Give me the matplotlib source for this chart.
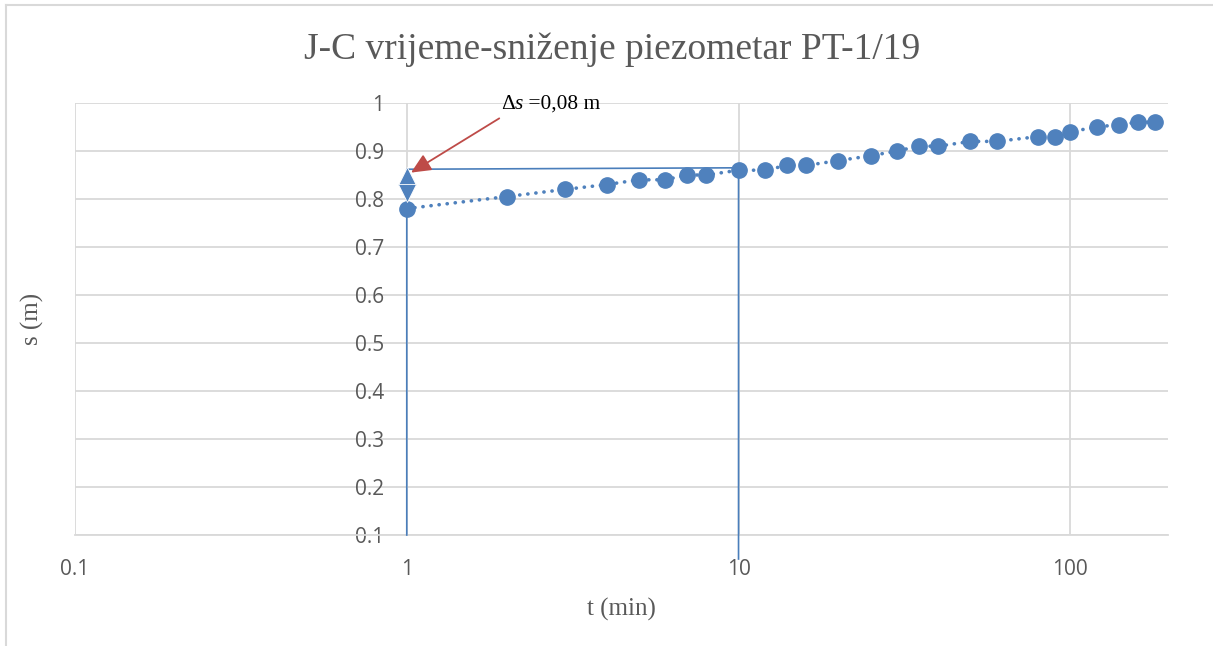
import matplotlib
matplotlib.use("Agg")
import matplotlib.pyplot as plt
from matplotlib.ticker import FixedLocator, NullLocator
from matplotlib.lines import Line2D
from matplotlib.offsetbox import TextArea, HPacker, AnnotationBbox

# ---- data ----
t_min = [1, 2, 3, 4, 5, 6, 7, 8, 10, 12, 14, 16, 20, 25, 30, 35, 40, 50, 60,
         80, 90, 100, 120, 140, 160, 180]
s_m = [0.78, 0.805, 0.82, 0.83, 0.84, 0.84, 0.85, 0.85, 0.86, 0.86, 0.87, 0.87,
       0.88, 0.89, 0.90, 0.91, 0.91, 0.92, 0.92, 0.93, 0.93, 0.94, 0.95, 0.955,
       0.96, 0.96]

constr_t = [1, 1, 10, 10]
constr_s = [0.1, 0.862, 0.865, 0.05]

arrow_up_t = [1]
arrow_up_s = [0.848]
arrow_dn_t = [1]
arrow_dn_s = [0.813]

ann_text_t, ann_text_s = 1.92, 0.997
ann_tail_t, ann_tail_s = 1.90, 0.968
ann_head_t, ann_head_s = 1.03, 0.855

x_ticks = [0.1, 1, 10, 100]
x_tick_labels = ["0.1", "1", "10", "100"]
y_ticks = [0.1, 0.2, 0.3, 0.4, 0.5, 0.6, 0.7, 0.8, 0.9, 1.0]
y_tick_labels = ["0.1", "0.2", "0.3", "0.4", "0.5", "0.6", "0.7", "0.8", "0.9", "1"]

title = "J-C vrijeme-sniženje piezometar PT-1/19"
xlabel = "t (min)"
ylabel = "s (m)"

# ---- style ----
blue = "#4f81bd"
line_blue = "#4a7ebb"
red = "#be4b48"
grid_c = "#d9d9d9"
txt_c = "#595959"
serif = ["Liberation Serif", "DejaVu Serif"]
sans = ["Open Sans", "DejaVu Sans"]

fig = plt.figure(figsize=(12.13, 6.46), dpi=100)
fig.patch.set_facecolor("white")
ax = fig.add_axes([75 / 1213, 1 - 535 / 646, (1168 - 75) / 1213, (535 - 103) / 646])

ax.set_xscale("log")
ax.set_xlim(0.1, 197)
ax.set_ylim(0.1, 1.0)

ax.xaxis.set_major_locator(FixedLocator(x_ticks))
ax.xaxis.set_minor_locator(NullLocator())
ax.set_xticklabels(x_tick_labels)
ax.yaxis.set_major_locator(FixedLocator(y_ticks))
ax.set_yticklabels(y_tick_labels)

ax.grid(True, color=grid_c, lw=1.3, zorder=0)
ax.set_axisbelow(True)
for side in ["top", "right"]:
    ax.spines[side].set_visible(False)
ax.spines["bottom"].set_color(grid_c)
ax.spines["bottom"].set_linewidth(1.3)
ax.spines["left"].set_position(("data", 1))
ax.spines["left"].set_color("none")

ax.tick_params(axis="both", length=0, labelsize=15, labelcolor=txt_c)
ax.tick_params(axis="x", pad=17)
ax.tick_params(axis="y", pad=16)
for lab in ax.get_xticklabels() + ax.get_yticklabels():
    lab.set_family(sans)

# construction lines
ax.plot(constr_t, constr_s, color=line_blue, lw=1.2, clip_on=False, zorder=3)

# data series with dotted line
ax.plot(t_min, s_m, linestyle=(0, (0.05, 2.2)), dash_capstyle="round",
        color=blue, lw=2.6, zorder=4)
ax.plot(t_min, s_m, linestyle="none", marker="o", markersize=11,
        color=blue, zorder=5)

# double arrow heads
ax.plot(arrow_up_t, arrow_up_s, linestyle="none", marker="^", markersize=13,
        color=blue, markeredgecolor="white", markeredgewidth=0.6, zorder=6)
ax.plot(arrow_dn_t, arrow_dn_s, linestyle="none", marker="v", markersize=13,
        color=blue, markeredgecolor="white", markeredgewidth=0.6, zorder=6)

# annotation arrow
ax.annotate("", xy=(ann_head_t, ann_head_s), xytext=(ann_tail_t, ann_tail_s),
            arrowprops=dict(arrowstyle="-|>,head_length=1.2,head_width=0.55",
                            color=red, lw=1.3, shrinkA=0, shrinkB=0), zorder=7)

# annotation text: Δs =0,08 m (s italic)
fs_ann = 15.4
ta1 = TextArea("Δ", textprops=dict(fontsize=fs_ann, family=serif, color="black"))
ta2 = TextArea("s", textprops=dict(fontsize=fs_ann, family=serif, style="italic", color="black"))
ta3 = TextArea(" =0,08 m", textprops=dict(fontsize=fs_ann, family=serif, color="black"))
box = HPacker(children=[ta1, ta2, ta3], align="baseline", pad=0, sep=0)
ab = AnnotationBbox(box, (ann_text_t, ann_text_s), xycoords="data",
                    box_alignment=(0, 0.5), frameon=False, pad=0, zorder=7)
ax.add_artist(ab)

ax.set_xlabel(xlabel, fontsize=18, family=serif, color=txt_c, labelpad=13)
ax.set_ylabel(ylabel, fontsize=18, family=serif, color=txt_c)
ax.yaxis.set_label_coords(-(75 - 44) / 1093, 0.5)

fig.text(0.505, 1 - 50 / 646, title, fontsize=27, family=serif, color=txt_c,
         ha="center", va="center")

# chart border (left and top)
fig.add_artist(Line2D([6 / 1213, 6 / 1213], [0, 1 - 5 / 646], color=grid_c, lw=1.5,
                      transform=fig.transFigure))
fig.add_artist(Line2D([6 / 1213, 1], [1 - 5 / 646, 1 - 5 / 646], color=grid_c, lw=1.5,
                      transform=fig.transFigure))

fig.savefig("out.png", dpi=100)
